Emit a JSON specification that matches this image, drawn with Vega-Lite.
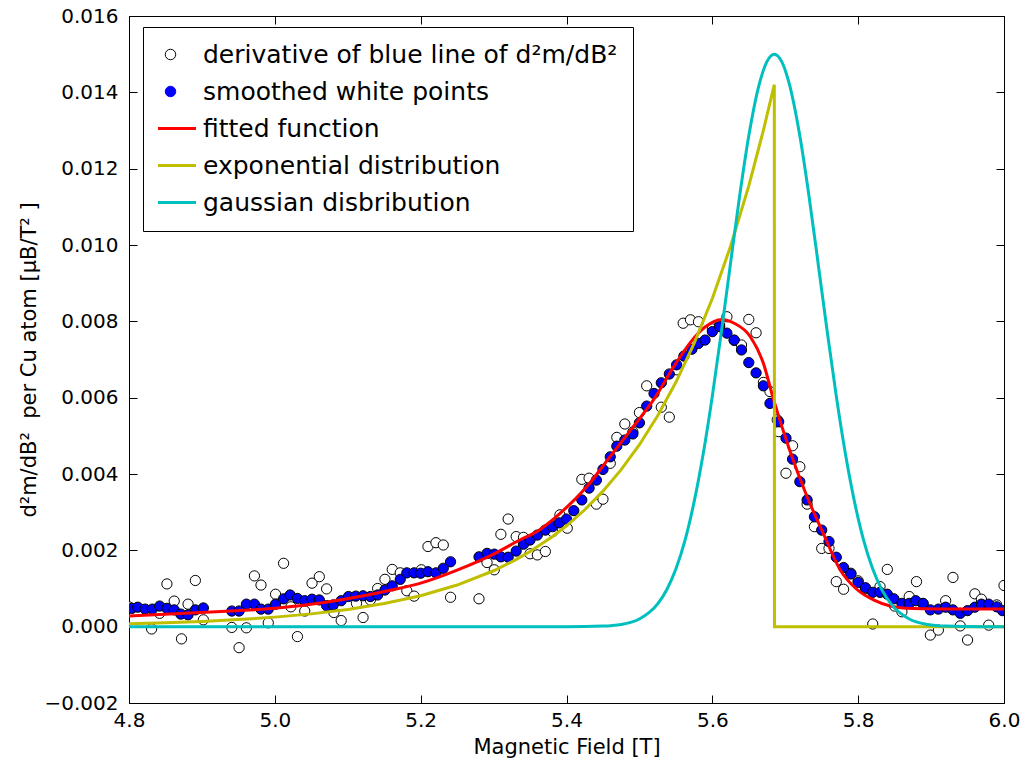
{
  "$schema": "https://vega.github.io/schema/vega-lite/v6.json",
  "width": 875,
  "height": 687,
  "autosize": {"type": "none"},
  "padding": {"left": 129, "top": 16, "right": 21, "bottom": 60},
  "background": "white",
  "config": {
    "view": {"stroke": "black", "strokeWidth": 1},
    "font": "DejaVu Sans",
    "axis": {
      "grid": false, "domain": false, "tickColor": "black", "tickSize": -8, "tickWidth": 1,
      "labelColor": "black", "labelFont": "DejaVu Sans", "labelFontSize": 20,
      "titleFont": "DejaVu Sans", "titleFontSize": 21, "titleFontWeight": "normal", "titleColor": "black",
      "labelFlush": false, "labelOverlap": false, "labelBound": false
    },
    "legend": {
      "orient": "none", "legendX": 14, "legendY": 11,
      "fillColor": "white", "strokeColor": "black", "padding": 15, "cornerRadius": 0,
      "labelFont": "DejaVu Sans", "labelFontSize": 25, "labelColor": "black", "labelLimit": 1000,
      "labelOffset": 20, "rowPadding": 11, "clipHeight": 25,
      "symbolSize": 2601, "symbolStrokeWidth": 3, "symbolType": "stroke"
    }
  },
  "datasets": {
    "white": [
      {"x":4.800,"y":0.00052},{"x":4.831,"y":-0.00006},{"x":4.842,"y":0.00035},{"x":4.852,"y":0.00112},{"x":4.862,"y":0.00067},{"x":4.872,"y":-0.00032},{"x":4.881,"y":0.00059},{"x":4.891,"y":0.00121},{"x":4.902,"y":0.00018},
      {"x":4.941,"y":-0.00002},{"x":4.951,"y":-0.00055},{"x":4.961,"y":-0.00003},{"x":4.972,"y":0.00133},{"x":4.981,"y":0.00109},{"x":4.991,"y":0.00010},{"x":5.001,"y":0.00085},{"x":5.012,"y":0.00166},{"x":5.022,"y":0.00052},{"x":5.031,"y":-0.00026},{"x":5.041,"y":0.00041},{"x":5.051,"y":0.00114},{"x":5.061,"y":0.00131},{"x":5.071,"y":0.00099},{"x":5.081,"y":0.00037},{"x":5.091,"y":0.00016},{"x":5.112,"y":0.00061},{"x":5.121,"y":0.00024},{"x":5.131,"y":0.00070},{"x":5.141,"y":0.00100},{"x":5.151,"y":0.00124},{"x":5.161,"y":0.00150},{"x":5.172,"y":0.00141},{"x":5.181,"y":0.00094},{"x":5.191,"y":0.00080},{"x":5.201,"y":0.00149},{"x":5.210,"y":0.00210},{"x":5.221,"y":0.00220},{"x":5.231,"y":0.00214},{"x":5.241,"y":0.00077},
      {"x":5.280,"y":0.00073},{"x":5.291,"y":0.00168},{"x":5.301,"y":0.00149},{"x":5.310,"y":0.00242},{"x":5.320,"y":0.00282},{"x":5.331,"y":0.00236},{"x":5.341,"y":0.00234},{"x":5.350,"y":0.00191},{"x":5.360,"y":0.00188},{"x":5.371,"y":0.00197},{"x":5.381,"y":0.00249},{"x":5.391,"y":0.00293},{"x":5.401,"y":0.00258},{"x":5.421,"y":0.00386},{"x":5.431,"y":0.00389},{"x":5.441,"y":0.00321},{"x":5.450,"y":0.00334},{"x":5.460,"y":0.00428},{"x":5.469,"y":0.00496},{"x":5.480,"y":0.00531},{"x":5.491,"y":0.00510},{"x":5.500,"y":0.00561},{"x":5.510,"y":0.00631},{"x":5.530,"y":0.00575},{"x":5.541,"y":0.00549},{"x":5.551,"y":0.00673},{"x":5.560,"y":0.00795},{"x":5.570,"y":0.00804},{"x":5.581,"y":0.00799},{"x":5.600,"y":0.00780},{"x":5.610,"y":0.00790},{"x":5.620,"y":0.00812},{"x":5.630,"y":0.00750},{"x":5.640,"y":0.00738},{"x":5.650,"y":0.00805},{"x":5.660,"y":0.00770},{"x":5.670,"y":0.00640},{"x":5.679,"y":0.00616},{"x":5.689,"y":0.00542},{"x":5.691,"y":0.00511},{"x":5.701,"y":0.00402},{"x":5.710,"y":0.00474},{"x":5.720,"y":0.00419},{"x":5.730,"y":0.00321},{"x":5.740,"y":0.00262},{"x":5.750,"y":0.00205},{"x":5.760,"y":0.00205},{"x":5.770,"y":0.00118},{"x":5.780,"y":0.00098},{"x":5.790,"y":0.00140},{"x":5.800,"y":0.00120},{"x":5.810,"y":0.00100},{"x":5.820,"y":0.00007},{"x":5.830,"y":0.00105},{"x":5.840,"y":0.00150},{"x":5.850,"y":0.00054},{"x":5.860,"y":0.00039},{"x":5.870,"y":0.00079},{"x":5.880,"y":0.00118},{"x":5.889,"y":0.00060},{"x":5.899,"y":-0.00022},{"x":5.910,"y":-0.00009},{"x":5.920,"y":0.00068},{"x":5.930,"y":0.00129},{"x":5.940,"y":0.00002},{"x":5.950,"y":-0.00035},{"x":5.960,"y":0.00086},{"x":5.969,"y":0.00072},{"x":5.979,"y":0.00004},{"x":5.990,"y":0.00057},{"x":6.000,"y":0.00108}
    ],
    "blue": [
      {"x":4.804,"y":0.00048},{"x":4.812,"y":0.00051},{"x":4.822,"y":0.00046},{"x":4.832,"y":0.00046},{"x":4.842,"y":0.00054},{"x":4.852,"y":0.00048},{"x":4.862,"y":0.00044},{"x":4.871,"y":0.00033},{"x":4.881,"y":0.00031},{"x":4.891,"y":0.00044},{"x":4.902,"y":0.00049},
      {"x":4.941,"y":0.00041},{"x":4.951,"y":0.00041},{"x":4.961,"y":0.00059},{"x":4.972,"y":0.00059},{"x":4.981,"y":0.00046},{"x":4.991,"y":0.00046},{"x":5.001,"y":0.00059},{"x":5.012,"y":0.00073},{"x":5.021,"y":0.00083},{"x":5.031,"y":0.00074},{"x":5.041,"y":0.00068},{"x":5.051,"y":0.00072},{"x":5.061,"y":0.00070},{"x":5.071,"y":0.00055},{"x":5.080,"y":0.00057},{"x":5.091,"y":0.00068},{"x":5.101,"y":0.00079},{"x":5.111,"y":0.00080},{"x":5.121,"y":0.00081},{"x":5.131,"y":0.00079},{"x":5.141,"y":0.00083},{"x":5.151,"y":0.00096},{"x":5.161,"y":0.00107},{"x":5.172,"y":0.00124},{"x":5.181,"y":0.00141},{"x":5.191,"y":0.00141},{"x":5.200,"y":0.00140},{"x":5.210,"y":0.00144},{"x":5.221,"y":0.00141},{"x":5.231,"y":0.00153},{"x":5.241,"y":0.00170},
      {"x":5.280,"y":0.00183},{"x":5.291,"y":0.00192},{"x":5.301,"y":0.00190},{"x":5.310,"y":0.00183},{"x":5.320,"y":0.00182},{"x":5.331,"y":0.00198},{"x":5.341,"y":0.00216},{"x":5.350,"y":0.00227},{"x":5.360,"y":0.00240},{"x":5.371,"y":0.00253},{"x":5.381,"y":0.00262},{"x":5.390,"y":0.00272},{"x":5.400,"y":0.00282},{"x":5.410,"y":0.00304},{"x":5.421,"y":0.00332},{"x":5.431,"y":0.00363},{"x":5.441,"y":0.00384},{"x":5.450,"y":0.00412},{"x":5.460,"y":0.00445},{"x":5.469,"y":0.00473},{"x":5.480,"y":0.00489},{"x":5.491,"y":0.00505},{"x":5.500,"y":0.00534},{"x":5.510,"y":0.00578},{"x":5.520,"y":0.00611},{"x":5.530,"y":0.00639},{"x":5.541,"y":0.00662},{"x":5.551,"y":0.00686},{"x":5.561,"y":0.00709},{"x":5.572,"y":0.00727},{"x":5.581,"y":0.00742},{"x":5.590,"y":0.00751},{"x":5.600,"y":0.00773},{"x":5.610,"y":0.00786},{"x":5.620,"y":0.00769},{"x":5.630,"y":0.00751},{"x":5.640,"y":0.00725},{"x":5.650,"y":0.00692},{"x":5.660,"y":0.00665},{"x":5.670,"y":0.00631},{"x":5.679,"y":0.00585},{"x":5.691,"y":0.00537},{"x":5.701,"y":0.00494},{"x":5.710,"y":0.00439},{"x":5.720,"y":0.00380},{"x":5.730,"y":0.00332},{"x":5.740,"y":0.00288},{"x":5.750,"y":0.00253},{"x":5.760,"y":0.00223},{"x":5.770,"y":0.00182},{"x":5.780,"y":0.00155},{"x":5.790,"y":0.00138},{"x":5.800,"y":0.00116},{"x":5.810,"y":0.00102},{"x":5.820,"y":0.00090},{"x":5.830,"y":0.00090},{"x":5.840,"y":0.00085},{"x":5.849,"y":0.00073},{"x":5.860,"y":0.00061},{"x":5.870,"y":0.00061},{"x":5.879,"y":0.00068},{"x":5.889,"y":0.00061},{"x":5.899,"y":0.00044},{"x":5.910,"y":0.00046},{"x":5.920,"y":0.00051},{"x":5.930,"y":0.00044},{"x":5.940,"y":0.00035},{"x":5.950,"y":0.00042},{"x":5.960,"y":0.00051},{"x":5.969,"y":0.00059},{"x":5.979,"y":0.00059},{"x":5.990,"y":0.00052},{"x":5.998,"y":0.00042}
    ],
    "red": [
      {"x":4.80,"y":0.00028},{"x":4.94,"y":0.00041},{"x":5.00,"y":0.00048},{"x":5.07,"y":0.00064},{"x":5.16,"y":0.00096},{"x":5.20,"y":0.00114},{"x":5.25,"y":0.00148},{"x":5.30,"y":0.00190},{"x":5.336,"y":0.00227},{"x":5.36,"y":0.00250},{"x":5.39,"y":0.00295},{"x":5.428,"y":0.00367},{"x":5.46,"y":0.00446},{"x":5.49,"y":0.00520},{"x":5.52,"y":0.00596},{"x":5.55,"y":0.00690},{"x":5.57,"y":0.00745},{"x":5.59,"y":0.00785},{"x":5.613,"y":0.00805},{"x":5.63,"y":0.00795},{"x":5.652,"y":0.00760},{"x":5.67,"y":0.00690},{"x":5.684,"y":0.00595},{"x":5.706,"y":0.00463},{"x":5.729,"y":0.00345},{"x":5.752,"y":0.00245},{"x":5.775,"y":0.00150},{"x":5.798,"y":0.00098},{"x":5.821,"y":0.00070},{"x":5.844,"y":0.00054},{"x":5.866,"y":0.00048},{"x":5.91,"y":0.00046},{"x":6.00,"y":0.00046}
    ],
    "yellow": [
      {"x":4.80,"y":0.0000767},{"x":4.85,"y":0.000103},{"x":4.90,"y":0.000138},{"x":4.95,"y":0.000186},{"x":5.00,"y":0.000250},{"x":5.05,"y":0.000335},{"x":5.10,"y":0.000450},{"x":5.15,"y":0.000605},{"x":5.20,"y":0.000812},{"x":5.25,"y":0.001091},{"x":5.30,"y":0.001465},{"x":5.33,"y":0.001749},{"x":5.35,"y":0.001968},{"x":5.38,"y":0.002349},{"x":5.40,"y":0.002643},{"x":5.425,"y":0.003063},{"x":5.45,"y":0.003550},{"x":5.475,"y":0.004114},{"x":5.50,"y":0.004767},{"x":5.525,"y":0.005525},{"x":5.55,"y":0.006403},{"x":5.575,"y":0.007421},{"x":5.60,"y":0.008599},{"x":5.625,"y":0.009967},{"x":5.65,"y":0.01155},{"x":5.67,"y":0.01300},{"x":5.685,"y":0.01420},{"x":5.6852,"y":0},{"x":6.00,"y":0}
    ],
    "cyan": [
      {"x":4.80,"y":0},{"x":5.30,"y":0},{"x":5.40,"y":0.0000005},{"x":5.45,"y":0.0000144},{"x":5.475,"y":0.000058},{"x":5.50,"y":0.000201},{"x":5.525,"y":0.000597},{"x":5.5375,"y":0.000969},{"x":5.55,"y":0.001511},{"x":5.5625,"y":0.00226},{"x":5.575,"y":0.00327},{"x":5.5875,"y":0.00453},{"x":5.60,"y":0.00604},{"x":5.6125,"y":0.00774},{"x":5.625,"y":0.00953},{"x":5.6375,"y":0.01129},{"x":5.65,"y":0.01286},{"x":5.665,"y":0.01426},{"x":5.675,"y":0.01481},{"x":5.685,"y":0.01500},{"x":5.695,"y":0.01481},{"x":5.705,"y":0.01426},{"x":5.72,"y":0.01286},{"x":5.7325,"y":0.01129},{"x":5.745,"y":0.00953},{"x":5.7575,"y":0.00774},{"x":5.77,"y":0.00604},{"x":5.7825,"y":0.00453},{"x":5.795,"y":0.00327},{"x":5.8075,"y":0.00226},{"x":5.82,"y":0.001511},{"x":5.8325,"y":0.000969},{"x":5.845,"y":0.000597},{"x":5.87,"y":0.000201},{"x":5.895,"y":0.000058},{"x":5.92,"y":0.0000144},{"x":5.97,"y":0.0000005},{"x":6.00,"y":0}
    ]
  },
  "layer": [
    {
      "data": {"name": "white"},
      "mark": {"type": "point", "filled": true, "shape": "circle", "size": 105, "fill": "white", "stroke": "black", "strokeWidth": 1, "opacity": 1, "clip": true},
      "encoding": {
        "x": {"field": "x", "type": "quantitative", "scale": {"domain": [4.8, 6.0], "nice": false, "zero": false},
              "axis": {"orient": "bottom", "values": [4.8, 5.0, 5.2, 5.4, 5.6, 5.8, 6.0], "format": ".1f", "title": "Magnetic Field [T]", "labelPadding": 15, "titlePadding": 6}},
        "y": {"field": "y", "type": "quantitative", "scale": {"domain": [-0.002, 0.016], "nice": false, "zero": false},
              "axis": {"orient": "left", "values": [-0.002, 0, 0.002, 0.004, 0.006, 0.008, 0.010, 0.012, 0.014, 0.016], "format": ".3f", "title": "d²m/dB²\u00a0 per Cu atom [μB/T² ]", "labelPadding": 19, "titlePadding": 4}}
      }
    },
    {
      "data": {"name": "blue"},
      "mark": {"type": "point", "filled": true, "shape": "circle", "size": 105, "stroke": "black", "strokeWidth": 1, "opacity": 1, "clip": true},
      "encoding": {
        "x": {"field": "x", "type": "quantitative", "scale": {"domain": [4.8, 6.0], "nice": false, "zero": false},
              "axis": {"orient": "top", "values": [4.8, 5.0, 5.2, 5.4, 5.6, 5.8, 6.0], "labels": false, "title": null}},
        "y": {"field": "y", "type": "quantitative", "scale": {"domain": [-0.002, 0.016], "nice": false, "zero": false},
              "axis": {"orient": "right", "values": [-0.002, 0, 0.002, 0.004, 0.006, 0.008, 0.010, 0.012, 0.014, 0.016], "labels": false, "title": null}},
        "color": {"datum": "smoothed white points", "type": "nominal",
                  "scale": {"domain": ["derivative of blue line of d²m/dB²", "smoothed white points", "fitted function", "exponential distribution", "gaussian disbribution"], "range": ["black", "#0000ff", "#ff0000", "#bfbf00", "#00bfbf"]},
                  "legend": {"title": null, "encode": {"symbols": {"update": {
                      "shape": {"signal": "(datum.value === 'derivative of blue line of d²m/dB²' || datum.value === 'smoothed white points') ? 'circle' : 'stroke'"},
                      "size": {"signal": "(datum.value === 'derivative of blue line of d²m/dB²' || datum.value === 'smoothed white points') ? 110 : 2601"},
                      "fillOpacity": {"signal": "datum.value === 'derivative of blue line of d²m/dB²' ? 0 : 1"},
                      "strokeWidth": {"signal": "(datum.value === 'derivative of blue line of d²m/dB²' || datum.value === 'smoothed white points') ? 1 : 3"}}}}}}
      }
    },
    {
      "data": {"name": "red"},
      "mark": {"type": "line", "strokeWidth": 3, "interpolate": "monotone", "clip": true},
      "encoding": {
        "x": {"field": "x", "type": "quantitative", "axis": null},
        "y": {"field": "y", "type": "quantitative", "axis": null},
        "color": {"datum": "fitted function", "type": "nominal",
                  "legend": {"title": null, "encode": {"symbols": {"update": {
                      "shape": {"signal": "(datum.value === 'derivative of blue line of d²m/dB²' || datum.value === 'smoothed white points') ? 'circle' : 'stroke'"},
                      "size": {"signal": "(datum.value === 'derivative of blue line of d²m/dB²' || datum.value === 'smoothed white points') ? 110 : 2601"},
                      "fillOpacity": {"signal": "datum.value === 'derivative of blue line of d²m/dB²' ? 0 : 1"},
                      "strokeWidth": {"signal": "(datum.value === 'derivative of blue line of d²m/dB²' || datum.value === 'smoothed white points') ? 1 : 3"}}}}}}
      }
    },
    {
      "data": {"name": "yellow"},
      "mark": {"type": "line", "strokeWidth": 3, "interpolate": "linear", "clip": true},
      "encoding": {
        "x": {"field": "x", "type": "quantitative", "axis": null},
        "y": {"field": "y", "type": "quantitative", "axis": null},
        "color": {"datum": "exponential distribution", "type": "nominal",
                  "legend": {"title": null, "encode": {"symbols": {"update": {
                      "shape": {"signal": "(datum.value === 'derivative of blue line of d²m/dB²' || datum.value === 'smoothed white points') ? 'circle' : 'stroke'"},
                      "size": {"signal": "(datum.value === 'derivative of blue line of d²m/dB²' || datum.value === 'smoothed white points') ? 110 : 2601"},
                      "fillOpacity": {"signal": "datum.value === 'derivative of blue line of d²m/dB²' ? 0 : 1"},
                      "strokeWidth": {"signal": "(datum.value === 'derivative of blue line of d²m/dB²' || datum.value === 'smoothed white points') ? 1 : 3"}}}}}}
      }
    },
    {
      "data": {"name": "cyan"},
      "mark": {"type": "line", "strokeWidth": 3, "interpolate": "monotone", "clip": true},
      "encoding": {
        "x": {"field": "x", "type": "quantitative", "axis": null},
        "y": {"field": "y", "type": "quantitative", "axis": null},
        "color": {"datum": "gaussian disbribution", "type": "nominal",
                  "legend": {"title": null, "encode": {"symbols": {"update": {
                      "shape": {"signal": "(datum.value === 'derivative of blue line of d²m/dB²' || datum.value === 'smoothed white points') ? 'circle' : 'stroke'"},
                      "size": {"signal": "(datum.value === 'derivative of blue line of d²m/dB²' || datum.value === 'smoothed white points') ? 110 : 2601"},
                      "fillOpacity": {"signal": "datum.value === 'derivative of blue line of d²m/dB²' ? 0 : 1"},
                      "strokeWidth": {"signal": "(datum.value === 'derivative of blue line of d²m/dB²' || datum.value === 'smoothed white points') ? 1 : 3"}}}}}}
      }
    }
  ],
  "resolve": {"axis": {"x": "independent", "y": "independent"}}
}
